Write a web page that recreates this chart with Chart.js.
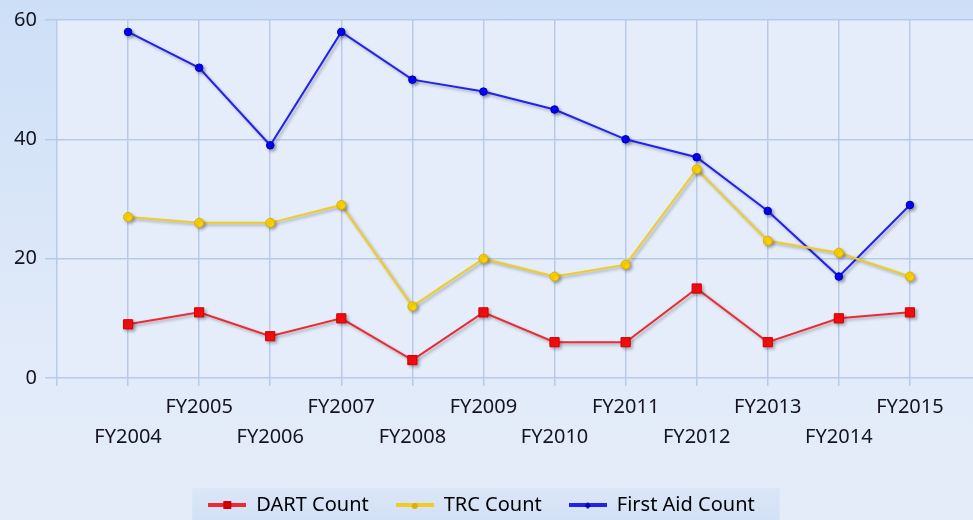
<!DOCTYPE html>
<html>
<head>
<meta charset="utf-8">
<script src="https://cdn.jsdelivr.net/npm/chart.js@4/dist/chart.umd.min.js"></script>
<style>
  html, body { margin: 0; padding: 0; overflow: hidden; }
  body { width: 973px; height: 520px; background: linear-gradient(#cddff7, #e2ebf9 70%, #e4ecf9); }
  #wrap { width: 1000px; height: 525px; position: relative; }
</style>
</head>
<body>
<div id="wrap"><canvas id="chart"></canvas></div>
<script>
// values
const categories = ['FY2004', 'FY2005', 'FY2006', 'FY2007', 'FY2008', 'FY2009',
  'FY2010', 'FY2011', 'FY2012', 'FY2013', 'FY2014', 'FY2015'];
const dartCounts = [9, 11, 7, 10, 3, 11, 6, 6, 15, 6, 10, 11];
const trcCounts = [27, 26, 26, 29, 12, 20, 17, 19, 35, 23, 21, 17];
const firstAidCounts = [58, 52, 39, 58, 50, 48, 45, 40, 37, 28, 17, 29];
const yTicks = [0, 20, 40, 60];

const FONT = "'Noto Sans', 'DejaVu Sans', sans-serif";
const TEXT = '#141420';
const GRID = '#b7cae6';

const toPoints = values => values.map((v, i) => ({ x: i, y: v }));

// small line + marker icon for the legend
function legendIcon(color, marker, style) {
  const c = document.createElement('canvas');
  c.width = 38;
  c.height = 12;
  const g = c.getContext('2d');
  g.fillStyle = color;
  g.fillRect(0, 4, 38, 4);
  g.fillStyle = marker;
  if (style === 'rect') {
    g.fillRect(15, 2, 8, 8);
  } else if (style === 'circle') {
    g.beginPath();
    g.arc(19, 7, 3, 0, Math.PI * 2);
    g.fill();
  } else {
    g.beginPath();
    g.moveTo(19, 3); g.lineTo(22, 7); g.lineTo(19, 10); g.lineTo(16, 7);
    g.closePath();
    g.fill();
  }
  return c;
}

const series = [
  { label: 'DART Count', data: dartCounts, line: '#ee2a2e', fill: '#ff0a0a', edge: '#d00000', icon: 'rect', style: 'rect', radius: 6.5 },
  { label: 'TRC Count', data: trcCounts, line: '#f0cd24', fill: '#ffd600', edge: '#dcb000', icon: 'circle', style: 'circle', radius: 4.5 },
  { label: 'First Aid Count', data: firstAidCounts, line: '#2222ee', fill: '#0000ff', edge: '#0000b8', icon: 'diamond', style: 'circle', radius: 3.8 }
];

const datasets = series.map(s => ({
  label: s.label,
  data: toPoints(s.data),
  borderColor: s.line,
  borderWidth: 2,
  backgroundColor: s.fill,
  pointStyle: s.style,
  pointRadius: s.radius,
  pointBackgroundColor: s.fill,
  pointBorderColor: s.edge,
  pointBorderWidth: 1,
  tension: 0,
  icon: legendIcon(s.line, s.edge, s.icon)
}));

// nudge the legend so it sits where the original one does
const LEGEND_SHIFT = -9;

// plot area fill, legend band and legend nudge
const backdrop = {
  id: 'backdrop',
  afterLayout(chart) {
    const legend = chart.legend;
    if (!legend) return;
    legend.left += LEGEND_SHIFT;
    legend.right += LEGEND_SHIFT;
    legend.legendHitBoxes.forEach(b => { b.left += LEGEND_SHIFT; });
  },
  beforeDraw(chart) {
    const { ctx, chartArea: a, legend } = chart;
    ctx.save();
    ctx.fillStyle = '#e5edfa';
    ctx.fillRect(a.left, a.top, a.right - a.left, a.bottom - a.top);
    if (legend && legend.legendHitBoxes.length) {
      const boxes = legend.legendHitBoxes;
      const left = Math.min(...boxes.map(b => b.left)) - 16;
      const right = Math.max(...boxes.map(b => b.left + b.width)) + 25;
      const top = boxes[0].top - 7;
      const grad = ctx.createLinearGradient(0, top, 0, chart.height);
      grad.addColorStop(0, '#dbe6f7');
      grad.addColorStop(1, '#d2e0f6');
      ctx.fillStyle = grad;
      ctx.fillRect(left, top, right - left, chart.height - top);
    }
    ctx.restore();
  }
};

// soft drop shadow under every line and marker
const shadow = {
  id: 'shadow',
  beforeDatasetDraw(chart) {
    const ctx = chart.ctx;
    ctx.save();
    ctx.shadowColor = 'rgba(40, 40, 60, 0.35)';
    ctx.shadowOffsetX = 2;
    ctx.shadowOffsetY = 2;
    ctx.shadowBlur = 3;
  },
  afterDatasetDraw(chart) {
    chart.ctx.restore();
  }
};

new Chart(document.getElementById('chart'), {
  type: 'line',
  data: { datasets },
  plugins: [backdrop, shadow],
  options: {
    responsive: true,
    maintainAspectRatio: false,
    animation: false,
    layout: { padding: { top: 20, right: 19, left: 0, bottom: 0 } },
    plugins: {
      tooltip: { enabled: false },
      legend: {
        position: 'bottom',
        labels: {
          usePointStyle: true,
          pointStyleWidth: 38,
          padding: 27,
          color: TEXT,
          font: { family: FONT, size: 20 },
          generateLabels(chart) {
            return chart.data.datasets.map((d, i) => ({
              text: d.label,
              pointStyle: d.icon,
              fillStyle: d.borderColor,
              strokeStyle: d.borderColor,
              lineWidth: 0,
              hidden: false,
              datasetIndex: i
            }));
          }
        }
      }
    },
    scales: {
      x: {
        type: 'linear',
        min: -1,
        max: categories.length,
        afterBuildTicks: s => {
          s.ticks = [];
          for (let i = -1; i <= categories.length; i++) s.ticks.push({ value: i });
        },
        afterFit: s => { s.height = 90; },
        grid: { color: GRID, lineWidth: 1.5, tickLength: 8 },
        border: { display: false },
        ticks: {
          autoSkip: false,
          maxRotation: 0,
          padding: 6,
          color: TEXT,
          font: { family: FONT, size: 20, lineHeight: 1.5 },
          callback: v => {
            const name = categories[v];
            if (!name) return '';
            return v % 2 === 0 ? ['', name] : [name, ''];
          }
        }
      },
      y: {
        min: 0,
        max: 60,
        afterBuildTicks: s => { s.ticks = yTicks.map(v => ({ value: v })); },
        afterFit: s => { s.width = 57; },
        grid: { color: GRID, lineWidth: 1.5, tickLength: 12 },
        border: { display: false },
        ticks: {
          padding: 8,
          color: TEXT,
          font: { family: FONT, size: 20 }
        }
      }
    }
  }
});
</script>
</body>
</html>
